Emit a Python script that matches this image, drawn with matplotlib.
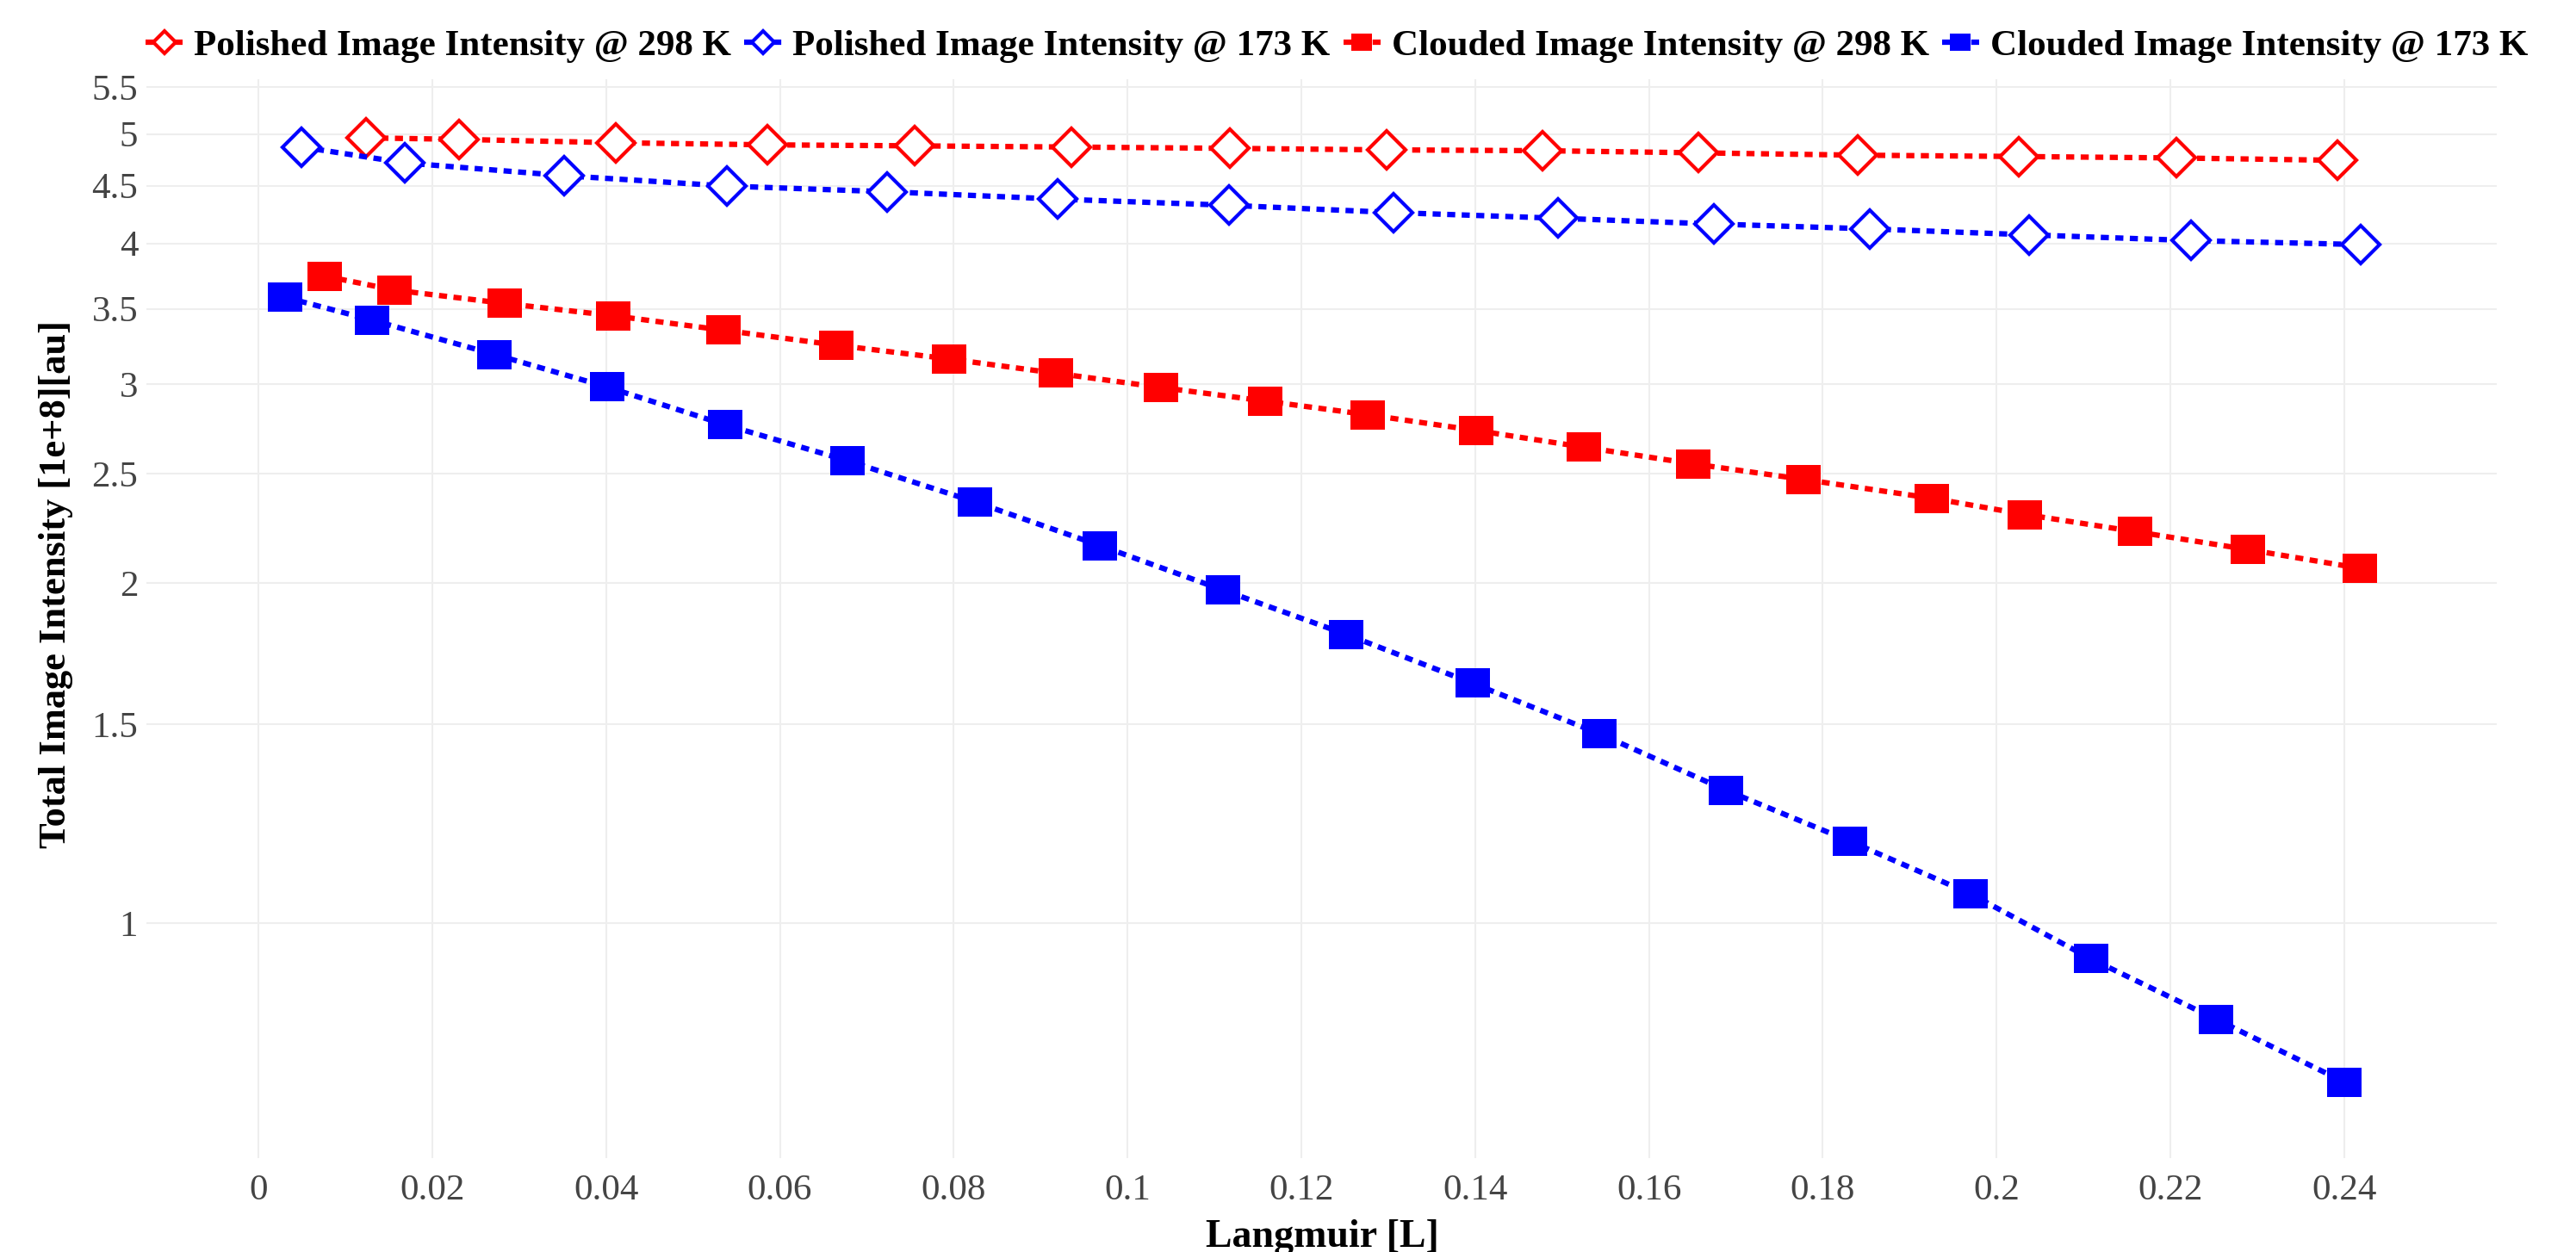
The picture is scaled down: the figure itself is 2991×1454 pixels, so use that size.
import numpy as np
import matplotlib
matplotlib.use("Agg")
import matplotlib.pyplot as plt
from matplotlib.path import Path
from matplotlib.ticker import FixedLocator, FuncFormatter, NullLocator

# Datos (intensidade em 1e+8 au, eixo y logarítmico)
pol_298_x = [0.01236, 0.02304, 0.04112, 0.05854, 0.07546, 0.09355, 0.1118,
             0.12983, 0.14775, 0.16565, 0.18406, 0.20255, 0.22072, 0.23921]
pol_298_y = [4.960, 4.945, 4.911, 4.890, 4.880, 4.868, 4.855,
             4.840, 4.832, 4.811, 4.788, 4.775, 4.761, 4.738]

pol_173_x = [0.00497, 0.01688, 0.0352, 0.05386, 0.07234, 0.09191, 0.11163,
             0.13064, 0.14955, 0.16747, 0.18537, 0.20378, 0.22237, 0.24185]
pol_173_y = [4.868, 4.713, 4.592, 4.496, 4.444, 4.378, 4.323,
             4.259, 4.210, 4.161, 4.120, 4.070, 4.023, 3.990]

clo_298_x = [0.0076, 0.01569, 0.02832, 0.04083, 0.05348, 0.0665, 0.07947,
             0.0918, 0.10389, 0.11584, 0.12767, 0.14013, 0.15246, 0.16514,
             0.17773, 0.1925, 0.20329, 0.21597, 0.22896, 0.2418]
clo_298_y = [3.742, 3.636, 3.539, 3.451, 3.351, 3.250, 3.160,
             3.069, 2.981, 2.900, 2.820, 2.731, 2.640, 2.551,
             2.472, 2.379, 2.301, 2.222, 2.142, 2.062]

clo_173_x = [0.00304, 0.01303, 0.02718, 0.04008, 0.05372, 0.06782, 0.08244,
             0.09682, 0.11094, 0.12516, 0.13971, 0.15425, 0.16889, 0.1831,
             0.19696, 0.21083, 0.22525, 0.24006]
clo_173_y = [3.584, 3.421, 3.189, 2.985, 2.763, 2.567, 2.361,
             2.160, 1.973, 1.802, 1.631, 1.472, 1.311, 1.182,
             1.062, 0.930, 0.822, 0.723]

labels = ["Polished Image Intensity @ 298 K", "Polished Image Intensity @ 173 K",
          "Clouded Image Intensity @ 298 K", "Clouded Image Intensity @ 173 K"]

x_ticks = [0, 0.02, 0.04, 0.06, 0.08, 0.1, 0.12, 0.14, 0.16, 0.18, 0.2, 0.22, 0.24]
y_ticks = [1, 1.5, 2, 2.5, 3, 3.5, 4, 4.5, 5, 5.5]

plt.rcParams['font.family'] = ['Liberation Serif', 'DejaVu Serif']

# marcador retangular (um pouco mais largo que alto)
rect = Path([(-0.6, -0.5), (0.6, -0.5), (0.6, 0.5), (-0.6, 0.5), (-0.6, -0.5)],
            [Path.MOVETO, Path.LINETO, Path.LINETO, Path.LINETO, Path.CLOSEPOLY])

fig = plt.figure(figsize=(29.91, 14.54), dpi=100)
ax = fig.add_axes([0.0568, 0.0748, 0.9126, 0.8622])

dots = (0, (1.5, 1.2))
lw = 4.5

ax.plot(pol_298_x, pol_298_y, color='red', lw=lw, linestyle=dots, dash_capstyle='butt',
        marker='D', ms=22, mfc='white', mec='red', mew=3, label=labels[0])
ax.plot(pol_173_x, pol_173_y, color='blue', lw=lw, linestyle=dots, dash_capstyle='butt',
        marker='D', ms=22, mfc='white', mec='blue', mew=3, label=labels[1])
ax.plot(clo_298_x, clo_298_y, color='red', lw=lw, linestyle=dots, dash_capstyle='butt',
        marker=rect, ms=29, mfc='red', mec='red', mew=0, label=labels[2])
ax.plot(clo_173_x, clo_173_y, color='blue', lw=lw, linestyle=dots, dash_capstyle='butt',
        marker=rect, ms=29, mfc='blue', mec='blue', mew=0, label=labels[3])

# Eixos
ax.set_yscale('log')
ax.set_xlim(-0.0129, 0.2576)
ax.set_ylim(0.619, 5.594)

ax.xaxis.set_major_locator(FixedLocator(x_ticks))
ax.xaxis.set_major_formatter(FuncFormatter(lambda v, p: f"{round(v, 2):g}"))
ax.yaxis.set_major_locator(FixedLocator(y_ticks))
ax.yaxis.set_major_formatter(FuncFormatter(lambda v, p: f"{v:g}"))
ax.yaxis.set_minor_locator(NullLocator())

ax.tick_params(axis='both', length=0, labelsize=31, labelcolor='#444444')
ax.tick_params(axis='x', pad=13)
ax.tick_params(axis='y', pad=7)

for s in ax.spines.values():
    s.set_visible(False)
ax.grid(True, color='#eeeeee', lw=1.5)
ax.set_axisbelow(True)

fig.text(0.5134, 0.004, 'Langmuir [L]', ha='center', va='baseline',
         fontsize=33, fontweight='bold')
fig.text(0.0217, 0.533, 'Total Image Intensity [1e+8][au]', ha='center', va='center',
         rotation=90, fontsize=32, fontweight='bold')

fig.legend(loc='center', bbox_to_anchor=(0.519, 0.963), ncol=4, frameon=False,
           prop={'size': 31, 'weight': 'bold'}, handlelength=1.0, handletextpad=0.3,
           columnspacing=0.35, markerscale=0.6)

fig.savefig('out.png', dpi=100, facecolor='white')
